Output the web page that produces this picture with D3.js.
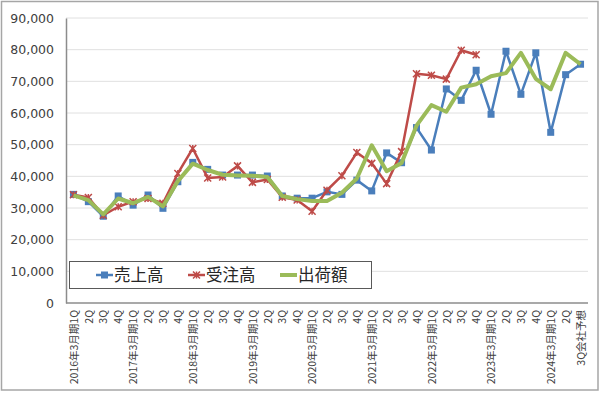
<!DOCTYPE html>
<html>
<head>
<meta charset="utf-8">
<script src="https://cdn.jsdelivr.net/npm/d3@7"></script>
<style>
  body { margin: 0; background: #fff; }
  svg { display: block; }
</style>
</head>
<body>
<svg id="chart" width="600" height="393"></svg>
<script>
  'use strict';

  // quarter labels, fiscal years end in March
  var categories = [
    '2016年3月期1Q', '2Q', '3Q', '4Q',
    '2017年3月期1Q', '2Q', '3Q', '4Q',
    '2018年3月期1Q', '2Q', '3Q', '4Q',
    '2019年3月期1Q', '2Q', '3Q', '4Q',
    '2020年3月期1Q', '2Q', '3Q', '4Q',
    '2021年3月期1Q', '2Q', '3Q', '4Q',
    '2022年3月期1Q', '2Q', '3Q', '4Q',
    '2023年3月期1Q', '2Q', '3Q', '4Q',
    '2024年3月期1Q', '2Q', '3Q会社予想'
  ];

  // 売上高 (sales)
  var sales = [
    34300, 32000, 27400, 33800, 30900, 34100, 29900, 38300,
    44400, 42200, 40400, 40400, 40400, 40100, 33800, 33100,
    33100, 35100, 34300, 38800, 35400, 47400, 44300, 55400,
    48300, 67600, 64000, 73500, 59600, 79500, 65900, 79000,
    53900, 72100, 75400
  ];

  // 受注高 (orders) - stops at 2022年3月期4Q
  var orders = [
    34200, 33300, 27700, 30400, 32000, 33000, 31500, 40900,
    48800, 39500, 39800, 43300, 38100, 39000, 33400, 32500,
    29000, 35600, 40200, 47500, 44100, 37700, 47800, 72400,
    71900, 70700, 79800, 78400
  ];

  // 出荷額 (shipments)
  var shipments = [
    34000, 32500, 28000, 33000, 31500, 33500, 30500, 38500,
    44000, 42000, 40500, 40300, 40200, 39800, 33800, 32800,
    32200, 32200, 34800, 39300, 49800, 41600, 44200, 56000,
    62500, 60400, 68000, 69100, 71600, 72600, 79000, 70800,
    67500, 79000, 75400
  ];

  var yTicks = [0, 10000, 20000, 30000, 40000, 50000, 60000, 70000, 80000, 90000];

  var svg = d3.select('#chart');
  var W = 600, H = 393;
  var m = { left: 66, right: 12, top: 18, bottom: 90 };

  // outer chart frame
  svg.append('rect')
    .attr('x', 1.5).attr('y', 1.5)
    .attr('width', 596.5).attr('height', 388.5)
    .attr('fill', '#fff')
    .attr('stroke', '#a6a6a6')
    .attr('stroke-width', 1.5);

  var x = d3.scalePoint()
    .domain(d3.range(categories.length))
    .range([m.left, W - m.right])
    .padding(0.5);

  var y = d3.scaleLinear()
    .domain([0, 90000])
    .range([H - m.bottom, m.top]);

  // grid lines
  svg.append('g')
    .selectAll('line')
    .data(yTicks.filter(function(d) { return d > 0; }))
    .enter().append('line')
    .attr('x1', m.left).attr('x2', W - m.right)
    .attr('y1', function(d) { return y(d); })
    .attr('y2', function(d) { return y(d); })
    .attr('stroke', '#e0e0e0')
    .attr('stroke-width', 1);

  // y axis
  var yAxis = svg.append('g')
    .attr('transform', 'translate(' + m.left + ',0)')
    .call(d3.axisLeft(y).tickValues(yTicks).tickSize(0).tickPadding(12)
      .tickFormat(d3.format(',')));
  yAxis.select('.domain').attr('stroke', '#8c8c8c').attr('stroke-width', 1.5);
  yAxis.selectAll('text')
    .attr('font-family', '"DejaVu Sans", Verdana, sans-serif')
    .attr('font-size', 12.5)
    .attr('fill', '#404040');

  // x axis
  var xAxis = svg.append('g')
    .attr('transform', 'translate(0,' + y(0) + ')')
    .call(d3.axisBottom(x).tickSize(0).tickSizeOuter(0)
      .tickFormat(function(i) { return categories[i]; }));
  xAxis.select('.domain')
    .attr('d', 'M' + m.left + ',0H' + (W - m.right))
    .attr('stroke', '#8c8c8c').attr('stroke-width', 1.5);
  xAxis.selectAll('text')
    .attr('font-family', '"Noto Sans CJK JP", "DejaVu Sans", sans-serif')
    .attr('font-size', 10.5)
    .attr('fill', '#404040')
    .attr('text-anchor', 'end')
    .attr('transform', 'rotate(-90)')
    .attr('x', -7)
    .attr('y', 0)
    .attr('dy', '0.35em');

  var line = d3.line()
    .x(function(d, i) { return x(i); })
    .y(function(d) { return y(d); });

  var blue = '#4a7ebb', red = '#be4b48', green = '#9bbb59';

  // 売上高
  svg.append('path')
    .datum(sales)
    .attr('d', line)
    .attr('fill', 'none')
    .attr('stroke', blue)
    .attr('stroke-width', 2.5)
    .attr('stroke-linejoin', 'round');
  svg.append('g')
    .selectAll('rect')
    .data(sales)
    .enter().append('rect')
    .attr('x', function(d, i) { return x(i) - 3.5; })
    .attr('y', function(d) { return y(d) - 3.5; })
    .attr('width', 7).attr('height', 7)
    .attr('fill', blue);

  // 受注高
  svg.append('path')
    .datum(orders)
    .attr('d', line)
    .attr('fill', 'none')
    .attr('stroke', red)
    .attr('stroke-width', 2.5)
    .attr('stroke-linejoin', 'round');

  function starMark(cx, cy, r) {
    return 'M' + (cx - r) + ',' + (cy - r) + 'L' + (cx + r) + ',' + (cy + r) +
      'M' + (cx - r) + ',' + (cy + r) + 'L' + (cx + r) + ',' + (cy - r) +
      'M' + cx + ',' + (cy - r) + 'L' + cx + ',' + (cy + r);
  }
  svg.append('g')
    .selectAll('path')
    .data(orders)
    .enter().append('path')
    .attr('d', function(d, i) { return starMark(x(i), y(d), 3.5); })
    .attr('stroke', red)
    .attr('stroke-width', 1.5)
    .attr('fill', 'none');

  // 出荷額
  svg.append('path')
    .datum(shipments)
    .attr('d', line)
    .attr('fill', 'none')
    .attr('stroke', green)
    .attr('stroke-width', 4)
    .attr('stroke-linejoin', 'round');

  // legend
  var legend = svg.append('g');
  legend.append('rect')
    .attr('x', 69.5).attr('y', 261.5)
    .attr('width', 302).attr('height', 27)
    .attr('fill', '#fff')
    .attr('stroke', '#595959')
    .attr('stroke-width', 1);

  var items = [
    { name: '売上高', color: blue, kind: 'square', x: 96 },
    { name: '受注高', color: red, kind: 'star', x: 188 },
    { name: '出荷額', color: green, kind: 'none', x: 280 }
  ];
  var ly = 275;
  items.forEach(function(it) {
    legend.append('line')
      .attr('x1', it.x).attr('x2', it.x + 17)
      .attr('y1', ly).attr('y2', ly)
      .attr('stroke', it.color)
      .attr('stroke-width', it.kind === 'none' ? 4 : 2.5);
    if (it.kind === 'square') {
      legend.append('rect')
        .attr('x', it.x + 5).attr('y', ly - 3.5)
        .attr('width', 7).attr('height', 7)
        .attr('fill', it.color);
    } else if (it.kind === 'star') {
      legend.append('path')
        .attr('d', starMark(it.x + 8.5, ly, 3.5))
        .attr('stroke', it.color).attr('stroke-width', 1.5);
    }
    legend.append('text')
      .attr('x', it.x + 18).attr('y', ly)
      .attr('dy', '0.36em')
      .attr('font-family', '"Noto Sans CJK JP", sans-serif')
      .attr('font-size', 16.5)
      .attr('fill', '#262626')
      .text(it.name);
  });
</script>
</body>
</html>
